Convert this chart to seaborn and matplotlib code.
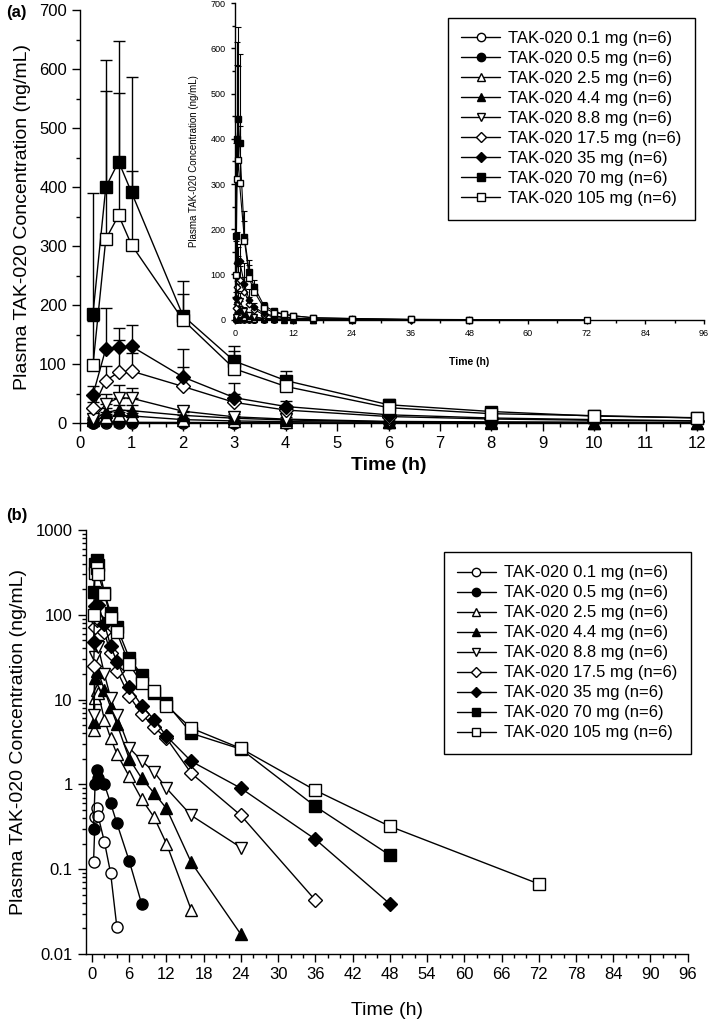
import numpy as np
import pandas as pd
import matplotlib
matplotlib.use("Agg")
import matplotlib.pyplot as plt
from matplotlib.ticker import MultipleLocator, LogLocator, NullFormatter, FixedLocator
import seaborn as sns

# ---- data (mean, upward SD) ----
times = [0.25, 0.5, 0.75, 1, 2, 3, 4, 6, 8, 10, 12, 16, 24, 36, 48, 72]

doses = ["0.1", "0.5", "2.5", "4.4", "8.8", "17.5", "35", "70", "105"]

conc_0p1 = [0.12, 0.41, 0.52, 0.42, 0.21, 0.09, 0.021]
conc_0p5 = [0.30, 1.0, 1.46, 1.2, 1.0, 0.60, 0.35, 0.125, 0.039]
conc_2p5 = [4.4, 10.5, 13, 12, 5.8, 3.5, 2.3, 1.24, 0.67, 0.41, 0.20, 0.033]
conc_4p4 = [5.5, 18, 22, 21, 13, 8.1, 5.2, 2.0, 1.18, 0.79, 0.52, 0.12, 0.017]
conc_8p8 = [6.6, 32, 43, 42, 20, 10.5, 6.6, 2.7, 1.9, 1.4, 0.9, 0.43, 0.18]
conc_17p5 = [25, 72, 86, 88, 62, 35, 22, 11, 6.8, 4.7, 3.5, 1.35, 0.43, 0.043]
conc_35 = [48, 126, 129, 130, 78, 43, 28, 13.9, 8.5, 5.8, 3.7, 1.87, 0.9, 0.225, 0.039]
conc_70 = [185, 400, 443, 391, 182, 105, 72, 31, 19.5, 11.8, 9.0, 4.0, 2.6, 0.55, 0.146]
conc_105 = [98, 312, 352, 302, 175, 92, 62, 26, 15.8, 12.5, 8.5, 4.6, 2.65, 0.85, 0.32, 0.067]

sd_0p1 = [0.08, 0.2, 0.2, 0.2, 0.1, 0.05, 0.01]
sd_0p5 = [0.2, 0.5, 0.6, 0.5, 0.4, 0.3, 0.2, 0.06, 0.02]
sd_2p5 = [2, 4, 5, 5, 2, 1.5, 1, 0.5, 0.3, 0.2, 0.1, 0.02]
sd_4p4 = [3, 8, 8, 9, 5, 3, 2, 0.8, 0.5, 0.3, 0.2, 0.05, 0.01]
sd_8p8 = [4, 18, 21, 18, 7, 5, 3, 1.2, 0.8, 0.6, 0.4, 0.2, 0.08]
sd_17p5 = [10, 25, 54, 30, 33, 15, 8, 4, 3, 2, 1.5, 0.6, 0.2, 0.02]
sd_35 = [14, 69, 32, 37, 48, 25, 10, 5, 3, 2, 1.5, 0.8, 0.4, 0.1, 0.02]
sd_70 = [205, 215, 204, 196, 58, 26, 16, 9, 6, 4, 3, 1.5, 1, 0.3, 0.1]
sd_105 = [75, 251, 208, 126, 43, 30, 18, 8, 5, 4, 3, 1.5, 1, 0.3, 0.1, 0.03]

all_conc = [conc_0p1, conc_0p5, conc_2p5, conc_4p4, conc_8p8,
            conc_17p5, conc_35, conc_70, conc_105]
all_sd = [sd_0p1, sd_0p5, sd_2p5, sd_4p4, sd_8p8,
          sd_17p5, sd_35, sd_70, sd_105]

# marker, face colour per dose
styles = [("o", "white"), ("o", "black"), ("^", "white"), ("^", "black"),
          ("v", "white"), ("D", "white"), ("D", "black"), ("s", "black"),
          ("s", "white")]

rows = []
for dose, conc, sd in zip(doses, all_conc, all_sd):
    for t, c, s in zip(times, conc, sd):
        rows.append({"dose": dose, "time": t, "conc": c, "sd": s})
df = pd.DataFrame(rows)

sns.set_theme(style="ticks")
plt.rcParams["font.family"] = ["Liberation Sans", "DejaVu Sans"]
plt.rcParams["axes.linewidth"] = 1.0
for k in ["xtick.major.width", "ytick.major.width",
          "xtick.minor.width", "ytick.minor.width"]:
    plt.rcParams[k] = 1.0
plt.rcParams["xtick.color"] = "black"
plt.rcParams["ytick.color"] = "black"
plt.rcParams["axes.edgecolor"] = "black"
plt.rcParams["text.color"] = "black"
plt.rcParams["axes.labelcolor"] = "black"

fig = plt.figure(figsize=(7.09, 10.28), dpi=100)
ax_a = fig.add_axes([0.113, 0.5885, 0.870, 0.4017])
ax_in = fig.add_axes([0.331, 0.689, 0.662, 0.308])
ax_b = fig.add_axes([0.121, 0.072, 0.849, 0.4125])


def draw(ax, data, ms, lw, cap, errors, tmax=None):
    for i, (dose, (mk, fc)) in enumerate(zip(doses, styles)):
        d = data[data["dose"] == dose]
        if tmax is not None:
            d = d[d["time"] <= tmax]
        if errors:
            ax.errorbar(d["time"], d["conc"], yerr=[np.zeros(len(d)), d["sd"]],
                        fmt="none", ecolor="black", elinewidth=lw, capsize=cap,
                        capthick=lw, zorder=2, clip_on=False)
        sns.lineplot(data=d, x="time", y="conc", ax=ax, color="black",
                     marker=mk, markersize=ms * (0.85 if mk == "D" else 1.0),
                     markerfacecolor=fc, markeredgecolor="black",
                     markeredgewidth=1.0, linewidth=lw, legend=False,
                     estimator=None, errorbar=None, sort=False,
                     label=f"TAK-020 {dose} mg (n=6)", zorder=3 + i, clip_on=False)


def style_axes(ax):
    sns.despine(ax=ax)
    ax.tick_params(which="both", direction="out", colors="black")
    ax.grid(False)
    ax.set_facecolor("none")


# ---- panel (a) ----
draw(ax_a, df, ms=8, lw=1.0, cap=4.5, errors=True, tmax=12)
ax_a.set_xlim(0, 12)
ax_a.set_ylim(0, 700)
ax_a.xaxis.set_major_locator(MultipleLocator(1))
ax_a.xaxis.set_minor_locator(MultipleLocator(1 / 3))
ax_a.yaxis.set_major_locator(MultipleLocator(100))
ax_a.yaxis.set_minor_locator(MultipleLocator(50))
style_axes(ax_a)
ax_a.tick_params(which="major", length=6, labelsize=12)
ax_a.tick_params(which="minor", length=3)
ax_a.set_xlabel("Time (h)", fontsize=14, fontweight="bold", labelpad=4)
ax_a.set_ylabel("Plasma TAK-020 Concentration (ng/mL)", fontsize=14, labelpad=6)

# inset
draw(ax_in, df, ms=4, lw=0.8, cap=2.5, errors=True)
ax_in.set_xlim(0, 96)
ax_in.set_ylim(0, 700)
ax_in.xaxis.set_major_locator(MultipleLocator(12))
ax_in.xaxis.set_minor_locator(MultipleLocator(6))
ax_in.yaxis.set_major_locator(MultipleLocator(100))
ax_in.yaxis.set_minor_locator(MultipleLocator(50))
style_axes(ax_in)
ax_in.tick_params(which="major", length=3, labelsize=6.5)
ax_in.tick_params(which="minor", length=2)
ax_in.set_xlabel("Time (h)", fontsize=7.5, fontweight="bold", labelpad=14)
ax_in.set_ylabel("Plasma TAK-020 Concentration (ng/mL)", fontsize=7, labelpad=8)

handles, labels = ax_a.get_legend_handles_labels()
leg_kw = dict(loc="upper left", fontsize=12, frameon=True, fancybox=False,
              edgecolor="black", framealpha=1, markerscale=0.75,
              handlelength=2.3, labelspacing=0.3, borderpad=0.8,
              handletextpad=0.5, borderaxespad=0)
leg_a = fig.legend(handles, labels, bbox_to_anchor=(0.632, 0.9825), **leg_kw)
leg_a.get_frame().set_linewidth(1.0)

# ---- panel (b) ----
draw(ax_b, df, ms=8, lw=1.0, cap=0, errors=False)
ax_b.set_yscale("log")
ax_b.set_xlim(-1, 96)
ax_b.set_ylim(0.01, 1000)
ax_b.xaxis.set_major_locator(MultipleLocator(6))
ax_b.xaxis.set_minor_locator(MultipleLocator(2))
ax_b.yaxis.set_major_locator(FixedLocator([0.01, 0.1, 1, 10, 100, 1000]))
ax_b.yaxis.set_minor_locator(LogLocator(base=10, subs=np.arange(2, 10)))
ax_b.yaxis.set_minor_formatter(NullFormatter())
ax_b.set_yticklabels(["0.01", "0.1", "1", "10", "100", "1000"])
style_axes(ax_b)
ax_b.tick_params(which="major", length=6, labelsize=12)
ax_b.tick_params(which="minor", length=3)
ax_b.set_xlabel("Time (h)", fontsize=14, labelpad=14)
ax_b.set_ylabel("Plasma TAK-020 Concentration (ng/mL)", fontsize=14, labelpad=6)

leg_b = fig.legend(handles, labels, bbox_to_anchor=(0.626, 0.463), **leg_kw)
leg_b.get_frame().set_linewidth(1.0)

fig.text(0.008, 0.995, "(a)", fontsize=12, fontweight="bold", va="top")
fig.text(0.008, 0.506, "(b)", fontsize=12, fontweight="bold", va="top")

fig.savefig("out.png", dpi=100, facecolor="white")
